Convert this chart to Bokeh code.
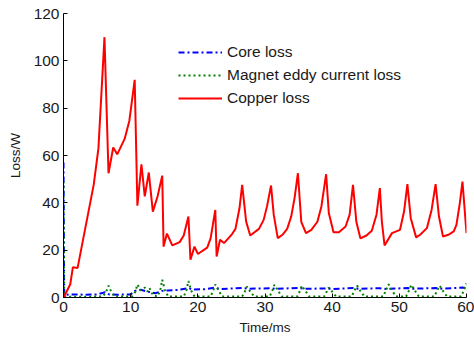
from bokeh.plotting import figure
from bokeh.models import Range1d, Legend, LegendItem
from bokeh.embed import file_html
from bokeh.resources import INLINE

# Copper loss
copper_t = [0, 1.0, 1.4, 2.1, 4.5, 5.2, 6.1, 6.7, 7.4, 8.0, 9.1, 9.8, 10.6, 11.0, 11.6,
            12.1, 12.7, 13.3, 14.0, 14.7, 14.9, 15.4, 16.2, 17.3, 17.9, 18.6, 18.9, 19.5,
            20.0, 21.4, 21.9, 22.6, 22.8, 23.3, 23.9, 25.1, 25.6, 26.2, 26.6, 27.2, 27.8,
            29.1, 29.8, 30.3, 30.9, 31.3, 31.9, 32.6, 33.3, 33.9, 34.4, 34.9, 35.4, 36.1,
            36.9, 37.8, 38.4, 39.1, 39.5, 40.2, 41.0, 42.0, 42.6, 43.1, 43.6, 44.2, 45.1,
            45.9, 46.6, 47.1, 47.4, 47.8, 48.9, 50.1, 50.7, 51.2, 51.7, 52.5, 53.1, 54.1,
            54.8, 55.4, 55.9, 56.5, 57.3, 58.1, 58.5, 59.0, 59.4, 60.0]
copper_y = [0, 5.5, 12.8, 12.5, 47.7, 63, 110, 52.5, 63.4, 60.5, 67, 74.6, 92, 38.8, 56.3,
            42.7, 52.8, 36.3, 42.7, 51.5, 21.5, 27, 22, 23.4, 26.2, 34.2, 16, 21.5,
            18.4, 21.1, 25, 37, 17.3, 24.4, 23, 26.8, 29, 37.7, 47.6, 32, 26.2,
            29, 32.8, 38.5, 47.3, 35, 25.1, 26.5, 29, 34.2, 42, 52.5, 32, 27.2,
            28.6, 32, 38.5, 52.1, 35.7, 27.6, 27.6, 30, 35, 47.6, 32, 25, 26.2,
            28.2, 35, 46.2, 32, 22, 27.2, 28.6, 36.3, 47.9, 33.5, 25.4, 26.5, 29.3,
            37, 47.9, 34.2, 25.8, 26.5, 27.9, 30.7, 39.8, 49, 27.2]

# Core loss
core_t = [0, 0.1, 1, 3, 5, 6.2, 6.8, 8, 10, 10.6, 11.5, 12.5, 13.7, 14.7, 15.5, 17, 18.6,
          19.2, 21, 22.6, 23.2, 26.6, 27.5, 30.9, 31.5, 35, 36, 39.1, 40, 43.1, 44, 47.1,
          48, 51.2, 52, 55.4, 56.5, 59.4, 60]
core_y = [57, 1.0, 1.3, 1.2, 1.3, 2.2, 1.3, 1.2, 1.3, 2.8, 3.3, 2.5, 1.8, 2.8, 3.0, 3.2, 4.0,
          3.4, 3.5, 4.2, 3.6, 4.0, 3.7, 3.9, 3.7, 4.0, 3.7, 3.8, 3.6, 4.0, 3.7, 3.9,
          3.6, 4.0, 3.7, 4.0, 3.7, 4.2, 4.0]

# Magnet eddy current loss
magnet_t = [0, 0.1, 1, 5.8, 6.3, 6.7, 7.1, 7.6, 10.2, 10.7, 11.0, 11.5, 12.1, 12.5, 12.8,
            13.3, 14.0, 14.4, 14.7, 15.1, 15.6, 17.9, 18.3, 18.6, 19.0, 19.5, 21.9, 22.3,
            22.6, 23.0, 23.6, 26.6, 27.0, 27.3, 27.8, 28.4, 30.7, 31.1, 31.4, 31.9, 32.5,
            34.8, 35.2, 35.5, 36.0, 36.6, 38.8, 39.2, 39.5, 40.0, 40.6, 42.9, 43.3, 43.7,
            44.2, 44.8, 47.6, 48.0, 48.4, 48.9, 49.5, 51.0, 51.4, 51.8, 52.3, 52.9, 55.2,
            55.6, 56.0, 56.5, 57.1, 59.2, 59.6, 60]
magnet_y = [49, 0.4, 0.3, 0.4, 2, 5, 2.5, 0.4, 0.4, 2.5, 5.5, 3, 4.2, 2.5, 4,
            1, 0.4, 3, 7.5, 3, 0.4, 0.4, 3, 7, 3, 0.4, 0.4, 3,
            5.5, 3.5, 0.4, 0.4, 2.5, 4.6, 2.5, 0.4, 0.4, 3, 5.4, 3, 0.4,
            0.4, 2.8, 5, 2.8, 0.4, 0.4, 2.5, 4.2, 2.5, 0.4, 0.4, 2.8, 5,
            2.8, 0.4, 0.4, 3, 5.6, 3, 0.4, 0.4, 2.8, 5.4, 3, 0.4, 0.4,
            2.8, 5, 2.8, 0.4, 0.4, 3, 6]

x_ticks = [0, 10, 20, 30, 40, 50, 60]
y_ticks = [0, 20, 40, 60, 80, 100, 120]
labels = ["Core loss", "Magnet eddy current loss", "Copper loss"]

FONT = "Liberation Sans"

p = figure(width=474, height=338, output_backend="svg", toolbar_location=None,
           x_range=Range1d(0, 60), y_range=Range1d(0, 120),
           min_border_left=63, min_border_right=8, min_border_top=13, min_border_bottom=41)
p.outline_line_color = None
p.xgrid.visible = False
p.ygrid.visible = False
p.background_fill_color = "white"

r_core = p.line(core_t, core_y, line_color="#0000ff", line_width=2, line_dash="6 3 2 3")
r_mag = p.line(magnet_t, magnet_y, line_color="#008000", line_width=2, line_dash="2 3")
r_cu = p.line(copper_t, copper_y, line_color="#ff0000", line_width=2)

for ax, ticks in ((p.xaxis[0], x_ticks), (p.yaxis[0], y_ticks)):
    ax.ticker = ticks
    ax.major_tick_in = 4
    ax.major_tick_out = 0
    ax.minor_tick_line_color = None
    ax.axis_line_color = "black"
    ax.major_tick_line_color = "black"
    ax.major_label_text_font = FONT
    ax.major_label_text_font_size = "15.5px"
    ax.major_label_text_color = "#1a1a1a"
    ax.axis_label_text_font = FONT
    ax.axis_label_text_font_size = "13.5px"
    ax.axis_label_text_font_style = "normal"
    ax.axis_label_text_color = "#1a1a1a"

p.xaxis.axis_label = "Time/ms"
p.yaxis.axis_label = "Loss/W"
p.xaxis.major_label_standoff = 4
p.xaxis.axis_label_standoff = 5
p.yaxis.major_label_standoff = 4
p.yaxis.axis_label_standoff = 8

legend = Legend(items=[LegendItem(label=labels[0], renderers=[r_core]),
                       LegendItem(label=labels[1], renderers=[r_mag]),
                       LegendItem(label=labels[2], renderers=[r_cu])],
                location=(115, 189))
legend.border_line_color = None
legend.background_fill_alpha = 0
legend.label_text_font = FONT
legend.label_text_font_size = "15.5px"
legend.label_text_color = "#1a1a1a"
legend.glyph_width = 44
legend.glyph_height = 20
legend.label_height = 20
legend.spacing = 3
legend.padding = 10
legend.margin = 0
legend.label_standoff = 5
p.add_layout(legend, "center")

open("out.html", "w").write(file_html(p, INLINE))
